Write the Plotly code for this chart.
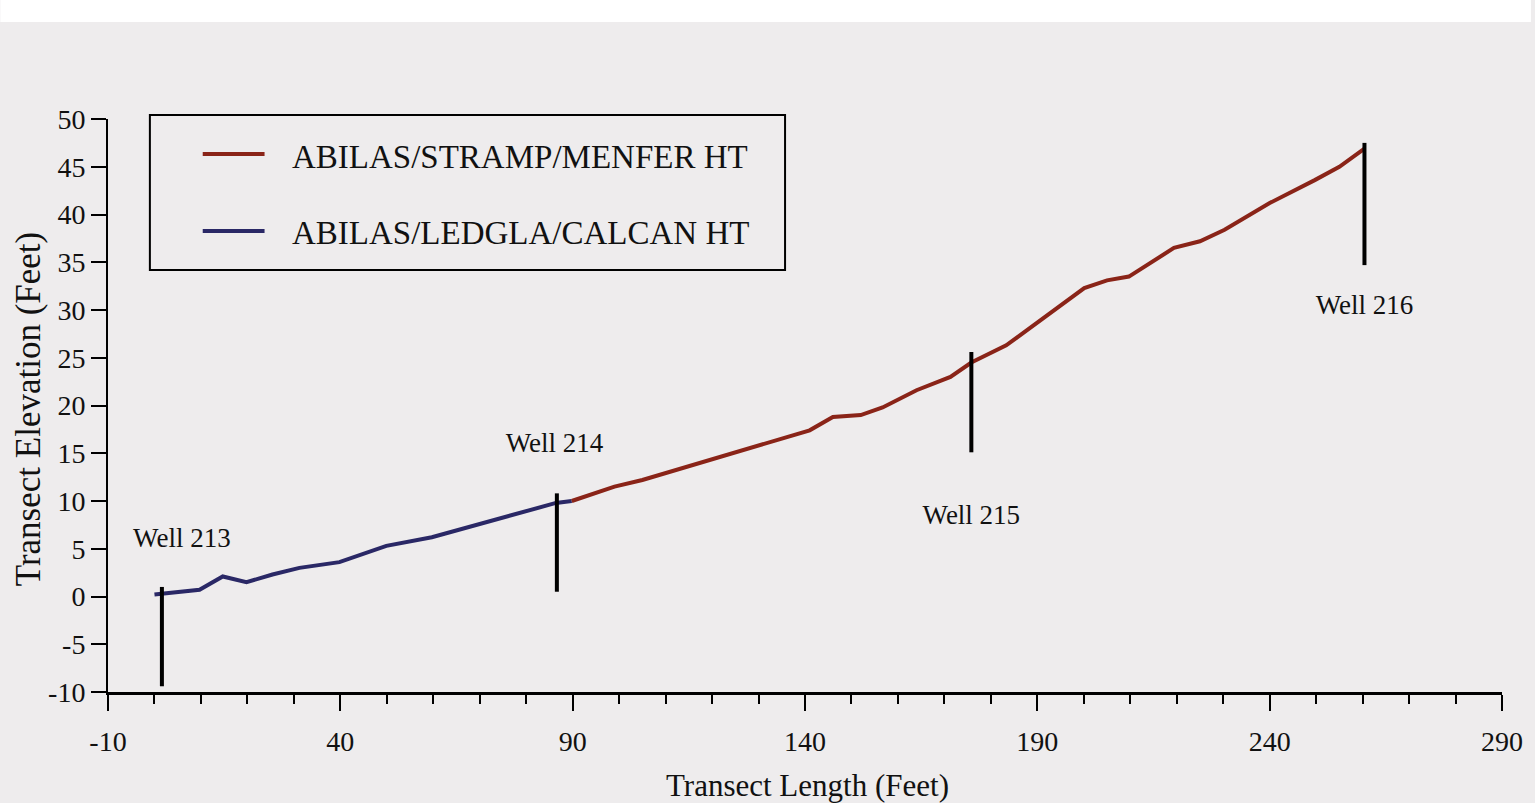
import plotly.graph_objects as go

# ---- data ----
blue_x = [0.0, 9.7, 14.7, 19.8, 25.4, 31.2, 39.8, 49.9, 59.7, 69.2, 80.6, 86.4, 89.8]
blue_y = [0.2, 0.7, 2.1, 1.5, 2.3, 3.0, 3.6, 5.3, 6.2, 7.5, 9.1, 9.8, 10.0]

red_x = [89.8, 99.0, 105.0, 112.0, 120.7, 128.0, 135.1, 141.0, 146.0, 152.0, 156.7,
         164.0, 171.3, 175.8, 183.3, 191.7, 200.1, 205.0, 209.7, 219.4, 225.0,
         230.3, 240.0, 249.7, 255.0, 260.4]
red_y = [10.0, 11.5, 12.2, 13.2, 14.5, 15.5, 16.6, 17.4, 18.8, 19.0, 19.8,
         21.6, 23.0, 24.5, 26.3, 29.3, 32.3, 33.1, 33.5, 36.5, 37.2,
         38.4, 41.2, 43.6, 45.0, 46.9]

series_names = ["ABILAS/STRAMP/MENFER HT", "ABILAS/LEDGLA/CALCAN HT"]

well_names = ["Well 213", "Well 214", "Well 215", "Well 216"]
well_x = [1.6, 86.6, 175.8, 260.4]
well_bottom = [-9.4, 0.5, 15.1, 34.7]
well_top = [1.0, 10.8, 25.6, 47.5]
label_x = [5.9, 86.1, 175.8, 260.4]
label_y = [5.9, 15.8, 8.3, 30.3]

x_ticks = [-10, 40, 90, 140, 190, 240, 290]
x_tick_labels = ["-10", "40", "90", "140", "190", "240", "290"]
y_ticks = [-10, -5, 0, 5, 10, 15, 20, 25, 30, 35, 40, 45, 50]
y_tick_labels = ["-10", "-5", "0", "5", "10", "15", "20", "25", "30", "35", "40", "45", "50"]

RED = "#8a2418"
BLUE = "#2a2866"
BG = "#eeeced"
FONT = "Liberation Serif"

fig = go.Figure()

fig.add_trace(go.Scatter(x=blue_x, y=blue_y, mode="lines", name=series_names[1],
                         line=dict(color=BLUE, width=4), showlegend=False))
fig.add_trace(go.Scatter(x=red_x, y=red_y, mode="lines", name=series_names[0],
                         line=dict(color=RED, width=4), showlegend=False))

# well markers
wx, wy = [], []
for x, b, t in zip(well_x, well_bottom, well_top):
    wx += [x, x, None]
    wy += [b, t, None]
fig.add_trace(go.Scatter(x=wx, y=wy, mode="lines", line=dict(color="black", width=4),
                         showlegend=False, hoverinfo="skip"))
fig.add_trace(go.Scatter(x=label_x, y=label_y, mode="text", text=well_names,
                         textfont=dict(family=FONT, size=27, color="#111"),
                         showlegend=False))

# legend drawn manually
L, R_, T, B = 108, 1506, 119, 692
W, H = R_ - L, B - T
def px(x):
    return (x - L) / W
def py(y):
    return (B - y) / H

shapes = [
    dict(type="rect", xref="paper", yref="paper", x0=-L / W, x1=(1535 - L) / W,
         y0=py(22), y1=py(0), fillcolor="white", line=dict(width=0), layer="below"),
    dict(type="rect", xref="paper", yref="paper", x0=px(150), x1=px(787),
         y0=py(270), y1=py(115), line=dict(color="black", width=2)),
    dict(type="line", xref="paper", yref="paper", x0=px(203), x1=px(265),
         y0=py(154), y1=py(154), line=dict(color=RED, width=4)),
    dict(type="line", xref="paper", yref="paper", x0=px(203), x1=px(265),
         y0=py(231), y1=py(231), line=dict(color=BLUE, width=4)),
]
annotations = [
    dict(xref="paper", yref="paper", x=px(291), y=py(157), text=series_names[0],
         showarrow=False, xanchor="left", yanchor="middle",
         font=dict(family=FONT, size=33, color="#111")),
    dict(xref="paper", yref="paper", x=px(291), y=py(233), text=series_names[1],
         showarrow=False, xanchor="left", yanchor="middle",
         font=dict(family=FONT, size=33, color="#111")),
    dict(xref="paper", yref="paper", x=px(810), y=py(785), text="Transect Length (Feet)",
         showarrow=False, xanchor="center", yanchor="middle",
         font=dict(family=FONT, size=31, color="#111")),
    dict(xref="paper", yref="paper", x=px(28), y=py(409), text="Transect Elevation (Feet)",
         showarrow=False, xanchor="center", yanchor="middle", textangle=-90,
         font=dict(family=FONT, size=35, color="#111")),
]

fig.update_layout(
    width=1535, height=803,
    margin=dict(l=L, r=1535 - R_, t=T, b=803 - B),
    paper_bgcolor=BG, plot_bgcolor=BG,
    shapes=shapes, annotations=annotations,
    font=dict(family=FONT, color="#111"),
    xaxis=dict(range=[-10, 290], tickvals=x_ticks, ticktext=x_tick_labels,
               ticks="outside", ticklen=16, ticklabelstandoff=6,
               tickwidth=2, tickcolor="black", showline=True, linecolor="black",
               linewidth=3, showgrid=False, zeroline=False,
               tickfont=dict(family=FONT, size=28, color="#111"),
               minor=dict(dtick=10, tick0=-10, ticks="outside", ticklen=9,
                          tickwidth=1.5, tickcolor="black", showgrid=False)),
    yaxis=dict(range=[-10, 50], tickvals=y_ticks, ticktext=y_tick_labels,
               ticks="outside", ticklen=15,
               tickwidth=2, tickcolor="black", showline=True, linecolor="black",
               linewidth=2, showgrid=False, zeroline=False,
               tickfont=dict(family=FONT, size=28, color="#111")),
)

fig.write_html("out.html")
